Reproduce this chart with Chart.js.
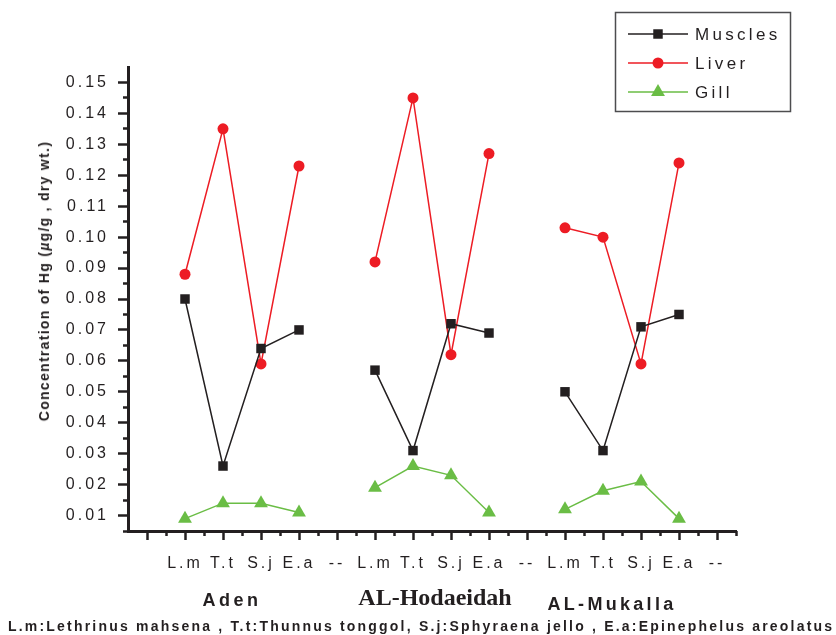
<!DOCTYPE html>
<html>
<head>
<meta charset="utf-8">
<script src="https://cdn.jsdelivr.net/npm/chart.js@4.4.1/dist/chart.umd.min.js"></script>
<style>
html,body{margin:0;padding:0;background:#fff;}
#wrap{position:relative;width:836px;height:635px;overflow:hidden;background:#fff;}
#c{position:absolute;left:0;top:0;}
.t{position:absolute;white-space:nowrap;color:#231f20;font-family:"Liberation Sans",Arial,sans-serif;font-weight:bold;line-height:1;}
</style>
</head>
<body>
<div id="wrap">
<canvas id="c" width="836" height="635"></canvas>
<div class="t" id="ytitle" style="left:44px;top:281px;font-size:14px;letter-spacing:1.3px;transform:translate(-50%,-50%) rotate(-90deg);">Concentration of Hg (<i>µ</i>g/g , dry wt.)</div>
<div class="t" id="site0" style="left:232px;top:600px;font-size:18px;letter-spacing:3.5px;transform:translate(-50%,-50%);"></div>
<div class="t" id="site1" style="left:435px;top:597px;font-size:24px;font-family:'Liberation Serif','Times New Roman',serif;transform:translate(-50%,-50%);"></div>
<div class="t" id="site2" style="left:612px;top:604px;font-size:18px;letter-spacing:3.3px;transform:translate(-50%,-50%);"></div>
<div class="t" id="caption" style="left:8px;top:626px;font-size:14px;letter-spacing:2.2px;transform:translate(0,-50%);"></div>
</div>
<script>
// ---- data ----
const categories = ['L.m','T.t','S.j','E.a','--','L.m','T.t','S.j','E.a','--','L.m','T.t','S.j','E.a','--'];
const muscles = [0.080,0.026,0.064,0.070,null,0.057,0.031,0.072,0.069,null,0.050,0.031,0.071,0.075,null];
const liver   = [0.088,0.135,0.059,0.123,null,0.092,0.145,0.062,0.127,null,0.103,0.100,0.059,0.124,null];
const gill    = [0.009,0.014,0.014,0.011,null,0.019,0.026,0.023,0.011,null,0.012,0.018,0.021,0.009,null];
const seriesNames = ['Muscles','Liver','Gill'];
const sites = ['Aden','AL-Hodaeidah','AL-Mukalla'];
const yTicks = [0.01,0.02,0.03,0.04,0.05,0.06,0.07,0.08,0.09,0.10,0.11,0.12,0.13,0.14,0.15];
const caption = 'L.m:Lethrinus mahsena , T.t:Thunnus tonggol, S.j:Sphyraena jello , E.a:Epinephelus areolatus';

sites.forEach((s,i)=>{ document.getElementById('site'+i).textContent = s; });
document.getElementById('caption').textContent = caption;

const INK = '#231f20';
const toPts = arr => arr.map((v,i)=>({x:i, y:v}));
const xMajor = [-1].concat(categories.map((c,i)=>i));
const xMinor = xMajor.map(v=>v+0.5);
const yMinor = [0.005].concat(yTicks.map(v=>+(v+0.005).toFixed(3))).filter(v=>v<0.155);

function marker(ctx, style, r, x, y){
  ctx.beginPath();
  if (style === 'rect') { const s = Math.SQRT1_2*r; ctx.rect(x-s,y-s,2*s,2*s); }
  else if (style === 'triangle') {
    for (let k=0;k<3;k++){ const a = k*2*Math.PI/3; const px = x+Math.sin(a)*r, py = y-Math.cos(a)*r; k?ctx.lineTo(px,py):ctx.moveTo(px,py);} ctx.closePath();
  } else { ctx.arc(x,y,r,0,Math.PI*2); }
  ctx.fill();
}

const spacingPlugin = {
  id:'spacing',
  beforeDraw(chart){ chart.ctx.letterSpacing = '3px'; },
  afterDraw(chart){
    const ctx = chart.ctx;
    ctx.save();
    ctx.letterSpacing = '3.3px';
    ctx.strokeStyle = '#4d4d4f'; ctx.lineWidth = 1.5;
    ctx.strokeRect(615.5, 12.5, 175, 99);
    chart.data.datasets.forEach((ds,i)=>{
      const y = 34 + i*29;
      ctx.strokeStyle = ds.borderColor; ctx.lineWidth = 1.5;
      ctx.beginPath(); ctx.moveTo(628,y); ctx.lineTo(688,y); ctx.stroke();
      ctx.fillStyle = ds.pointBackgroundColor;
      marker(ctx, ds.pointStyle, ds.pointRadius, 658, y);
      ctx.fillStyle = INK; ctx.font = '17px "Liberation Sans"';
      ctx.textBaseline = 'middle'; ctx.textAlign = 'left';
      ctx.fillText(ds.label, 695, y+1);
    });
    ctx.restore();
    ctx.letterSpacing = '0px';
  }
};

const colors = [INK, '#ed1c24', '#6abd45'];
const styles = ['rect','circle','triangle'];
const radii = [6.7, 5.5, 8];
const values = [muscles, liver, gill];

new Chart(document.getElementById('c'), {
  type:'scatter',
  data:{
    datasets: values.map((arr,i)=>({
      label: seriesNames[i],
      data: toPts(arr),
      showLine: true,
      spanGaps: false,
      borderColor: colors[i],
      borderWidth: 1.5,
      pointStyle: styles[i],
      pointRadius: radii[i],
      pointHoverRadius: radii[i],
      pointBackgroundColor: colors[i],
      pointBorderWidth: 0,
      xAxisID:'x', yAxisID:'y'
    }))
  },
  options:{
    responsive:false,
    animation:false,
    devicePixelRatio:1,
    layout:{padding:{top:67,right:100,bottom:0,left:0}},
    plugins:{legend:{display:false}, tooltip:{enabled:false}},
    font:{family:'"Liberation Sans", Arial, sans-serif'},
    scales:{
      x:{
        type:'linear', position:'bottom', min:-1.5, max:14.5, weight:1,
        afterBuildTicks: s => { s.ticks = xMajor.map(v=>({value:v})); },
        afterFit: s => { s.height = 104; },
        grid:{drawOnChartArea:false, drawTicks:true, tickLength:9, tickWidth:2.5, tickColor:INK},
        border:{display:true, color:INK, width:3},
        ticks:{autoSkip:false, maxRotation:0, padding:14, color:INK,
          font:{family:'"Liberation Sans", Arial, sans-serif', size:16},
          callback: v => (v>=0 && v<categories.length) ? categories[v] : ''}
      },
      x2:{
        type:'linear', position:'bottom', min:-1.5, max:14.5, weight:0,
        afterBuildTicks: s => { s.ticks = xMinor.map(v=>({value:v})); },
        afterFit: s => { s.height = 0; },
        grid:{drawOnChartArea:false, drawTicks:true, tickLength:5, tickWidth:2.5, tickColor:INK},
        border:{display:false},
        ticks:{autoSkip:false, display:true, callback:()=>''}
      },
      y:{
        type:'linear', position:'left', min:0.005, max:0.155, weight:1,
        afterBuildTicks: s => { s.ticks = yTicks.map(v=>({value:v})); },
        afterFit: s => { s.width = 128; },
        grid:{drawOnChartArea:false, drawTicks:true, tickLength:10, tickWidth:2.5, tickColor:INK},
        border:{display:true, color:INK, width:3},
        ticks:{autoSkip:false, padding:9, color:INK,
          font:{family:'"Liberation Sans", Arial, sans-serif', size:16},
          callback: v => v.toFixed(2)}
      },
      y2:{
        type:'linear', position:'left', min:0.005, max:0.155, weight:0,
        afterBuildTicks: s => { s.ticks = yMinor.map(v=>({value:v})); },
        afterFit: s => { s.width = 0; },
        grid:{drawOnChartArea:false, drawTicks:true, tickLength:5, tickWidth:2.5, tickColor:INK},
        border:{display:false},
        ticks:{autoSkip:false, display:true, callback:()=>''}
      }
    }
  },
  plugins:[spacingPlugin]
});
</script>
</body>
</html>
